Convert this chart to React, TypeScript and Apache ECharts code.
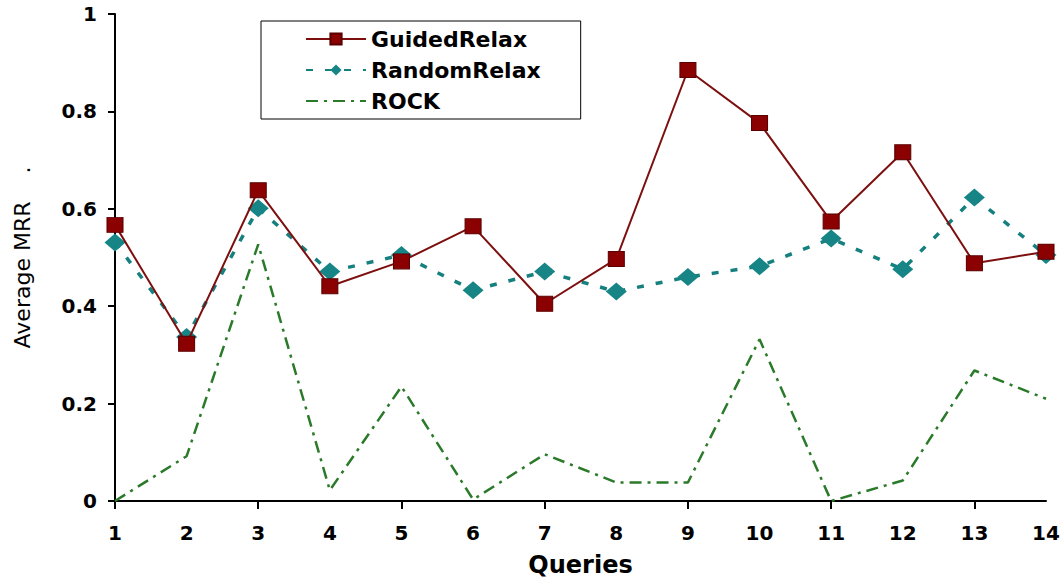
import React, { useEffect, useRef } from "react";
import * as echarts from "echarts";

const categories = ["1", "2", "3", "4", "5", "6", "7", "8", "9", "10", "11", "12", "13", "14"];
const guidedRelax = [0.567, 0.323, 0.638, 0.441, 0.492, 0.564, 0.405, 0.497, 0.885, 0.776, 0.574, 0.716, 0.488, 0.512];
const randomRelax = [0.531, 0.337, 0.601, 0.471, 0.505, 0.433, 0.471, 0.43, 0.46, 0.482, 0.539, 0.476, 0.623, 0.505];
const rock = [0.0, 0.092, 0.527, 0.022, 0.235, 0.003, 0.096, 0.038, 0.038, 0.332, 0.0, 0.042, 0.268, 0.21];
const seriesNames = ["GuidedRelax", "RandomRelax", "ROCK"];

export default function App() {
  const ref = useRef<HTMLDivElement>(null);
  useEffect(() => {
    if (!ref.current) return;
    const chart = echarts.init(ref.current, null, { renderer: "svg" });
    const bold = "DejaVu Sans";
    chart.setOption({
      animation: false,
      backgroundColor: "#ffffff",
      grid: { left: 115, right: 17, top: 14, bottom: 73, containLabel: false },
      legend: {
        orient: "vertical",
        left: 261,
        top: 21,
        data: seriesNames,
        itemWidth: 60,
        itemHeight: 14,
        itemGap: 9,
        padding: [7, 40, 7, 44],
        borderColor: "#000000",
        borderWidth: 1,
        backgroundColor: "#ffffff",
        textStyle: { fontFamily: bold, fontWeight: "bold", fontSize: 22, color: "#000000" },
      },
      xAxis: {
        type: "category",
        data: categories,
        boundaryGap: false,
        name: "Queries",
        nameLocation: "middle",
        nameGap: 52,
        nameTextStyle: { fontFamily: bold, fontWeight: "bold", fontSize: 24, color: "#000000" },
        axisLine: { lineStyle: { color: "#000000", width: 2 } },
        axisTick: { show: true, inside: false, length: 8, interval: (i: number) => i % 2 === 0, lineStyle: { color: "#000000", width: 2 } },
        axisLabel: { interval: 0, margin: 22, fontFamily: bold, fontWeight: "bold", fontSize: 20, color: "#000000" },
        splitLine: { show: false },
      },
      yAxis: {
        type: "value",
        min: 0,
        max: 1,
        interval: 0.2,
        name: "Average MRR    .",
        nameLocation: "middle",
        nameGap: 82,
        nameTextStyle: { fontFamily: "DejaVu Sans", fontSize: 22, color: "#000000" },
        axisLine: { show: true, lineStyle: { color: "#000000", width: 2 } },
        axisTick: { show: true, inside: false, length: 7, lineStyle: { color: "#000000", width: 2 } },
        axisLabel: { margin: 18, fontFamily: bold, fontWeight: "bold", fontSize: 20, color: "#000000" },
        splitLine: { show: false },
      },
      series: [
        {
          name: seriesNames[0],
          type: "line",
          data: guidedRelax,
          symbol: "rect",
          symbolSize: [16, 15],
          z: 3,
          lineStyle: { color: "#7d0f0f", width: 2, type: "solid" },
          itemStyle: { color: "#8b0000", borderColor: "#5a0000", borderWidth: 1 },
        },
        {
          name: seriesNames[1],
          type: "line",
          data: randomRelax,
          symbol: "diamond",
          symbolSize: [21, 18],
          z: 2,
          lineStyle: { color: "#16807f", width: 3.5, type: [7, 12] },
          itemStyle: { color: "#178585", borderWidth: 0 },
        },
        {
          name: seriesNames[2],
          type: "line",
          data: rock,
          symbol: "circle",
          symbolSize: 0,
          showSymbol: false,
          z: 1,
          lineStyle: { color: "#2a7a2a", width: 2.5, type: [12, 6, 3, 6] },
          itemStyle: { color: "#2a7a2a", opacity: 0 },
        },
      ],
    });
    return () => chart.dispose();
  }, []);
  return <div ref={ref} style={{ width: 1063, height: 582, position: "absolute", left: 0, top: 0 }} />;
}
